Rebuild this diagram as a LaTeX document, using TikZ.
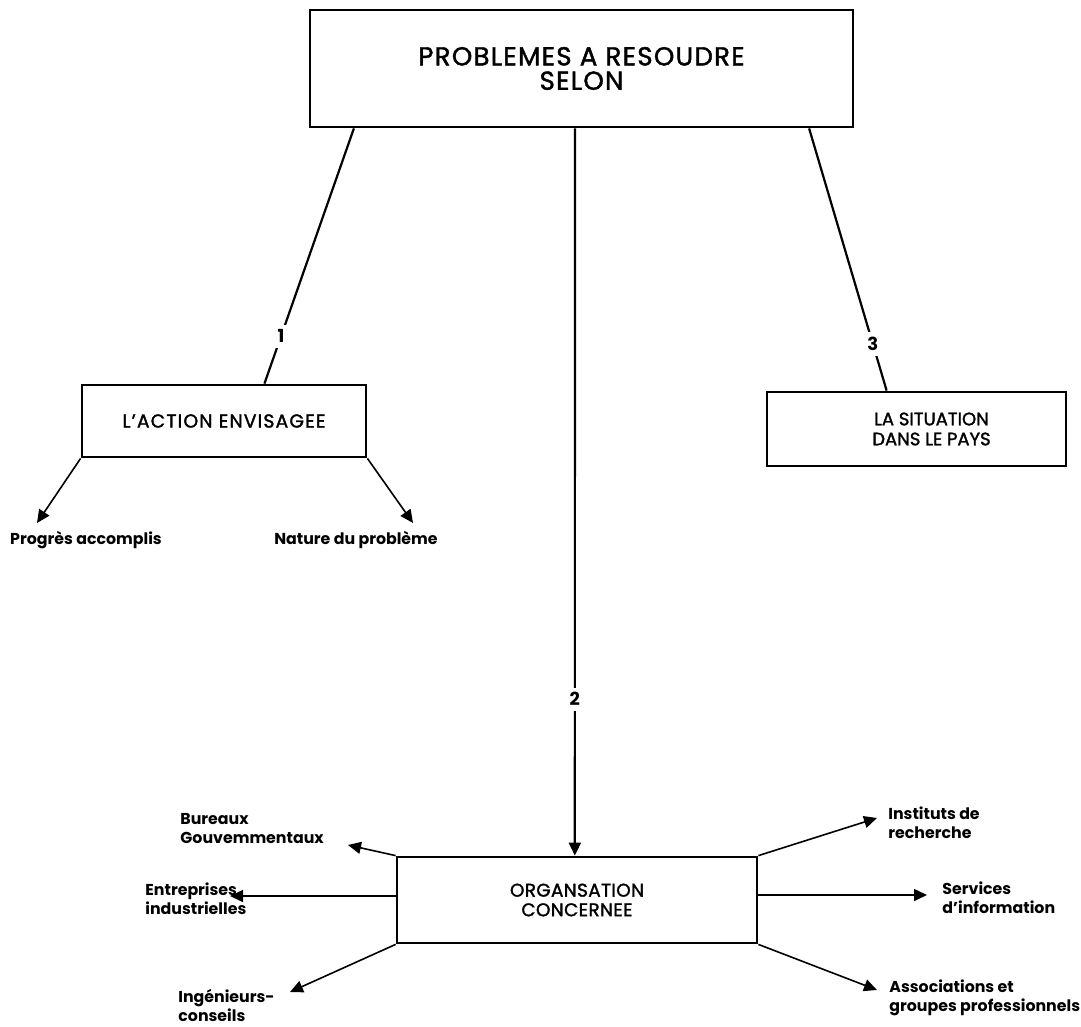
\documentclass[tikz,border=0pt]{standalone}
\usepackage{fontspec}
\setmainfont{Poppins}
\usetikzlibrary{arrows.meta,calc}

\newcommand{\heavy}{\addfontfeature{FakeBold=1.6}}

\tikzset{
  box/.style={draw, line width=1.4pt, inner sep=0pt, align=center},
  link/.style={line width=1.1pt},
  sublink/.style={line width=0.8pt},
  tipped/.style={-{Triangle[length=6.5pt,width=6pt]}},
  num/.style={fill=white, inner sep=2.5pt, font=\fontsize{9}{10}\selectfont\bfseries},
  lbl/.style={inner sep=0pt, align=left, font=\fontsize{7.9}{9.5}\selectfont\bfseries},
}

\begin{document}
\begin{tikzpicture}[x=0.5pt,y=-0.5pt]
\useasboundingbox (0,0) rectangle (1081,1027);

% main boxes
\node[box, minimum width=271.5pt, minimum height=58.5pt,
      font=\fontsize{13}{12.2}\selectfont\addfontfeature{LetterSpace=5}\heavy] (top) at (581.5,68.5)
  {PROBLEMES A RESOUDRE\\SELON};
\node[box, minimum width=142pt, minimum height=36pt,
      font=\fontsize{9.4}{10}\selectfont\addfontfeature{LetterSpace=6}\heavy] (act) at (224,421)
  {L’ACTION ENVISAGEE};
\node[box, minimum width=149.5pt, minimum height=37pt,
      font=\fontsize{9}{10}\selectfont\heavy] (sit) at (916.5,429)
  {\hspace*{15pt}LA SITUATION\\\hspace*{15pt}DANS LE PAYS};
\node[box, minimum width=180pt, minimum height=43pt,
      font=\fontsize{9.2}{9.8}\selectfont\addfontfeature{LetterSpace=2}\heavy] (org) at (577,900)
  {ORGANSATION\\CONCERNEE};

% numbered links from the top box
\draw[link] ($(top.south west)!0.083!(top.south east)$)
  -- node[num, pos=0.814] {1} ($(act.north west)!0.641!(act.north east)$);
\draw[link, tipped] ($(top.south west)!0.488!(top.south east)$)
  -- node[num, pos=0.785] {2} ($(org.north west)!0.494!(org.north east)$);
\draw[link] ($(top.south west)!0.917!(top.south east)$)
  -- node[num, pos=0.823] {3} ($(sit.north west)!0.401!(sit.north east)$);

% items under the action box
\node[lbl, anchor=center] (prog) at (86,540) {Progrès accomplis};
\node[lbl, anchor=center] (nat) at (356,540) {Nature du problème};
\coordinate (tprog) at (37,523);
\coordinate (tnat) at (413,523);
\draw[sublink, tipped] (act.south west) -- (tprog);
\draw[sublink, tipped] (act.south east) -- (tnat);

% items round the organisation box
\node[lbl, anchor=north west] (bur) at (180,813) {Bureaux\\Gouvemmentaux};
\node[lbl, anchor=north west] (ent) at (145,882) {Entreprises\\industrielles};
\node[lbl, anchor=north west] (ing) at (178,989) {Ingénieurs-\\conseils};
\node[lbl, anchor=north west] (ins) at (888,806) {Instituts de\\recherche};
\node[lbl, anchor=north west] (ser) at (942,881) {Services\\d’information};
\node[lbl, anchor=north west] (ass) at (889,979) {Associations et\\groupes professionnels};

\coordinate (tbur) at (348,845);
\coordinate (tent) at (230,896);
\coordinate (ting) at (290,992);
\coordinate (tins) at (877,818);
\coordinate (tser) at (927,895);
\coordinate (tass) at (877,990);

\draw[sublink, tipped] (org.north west) -- (tbur);
\draw[sublink, tipped] ([yshift=2pt]org.west) -- (tent);
\draw[sublink, tipped] (org.south west) -- (ting);
\draw[sublink, tipped] (org.north east) -- (tins);
\draw[sublink, tipped] ([yshift=2.5pt]org.east) -- (tser);
\draw[sublink, tipped] (org.south east) -- (tass);
\end{tikzpicture}
\end{document}
